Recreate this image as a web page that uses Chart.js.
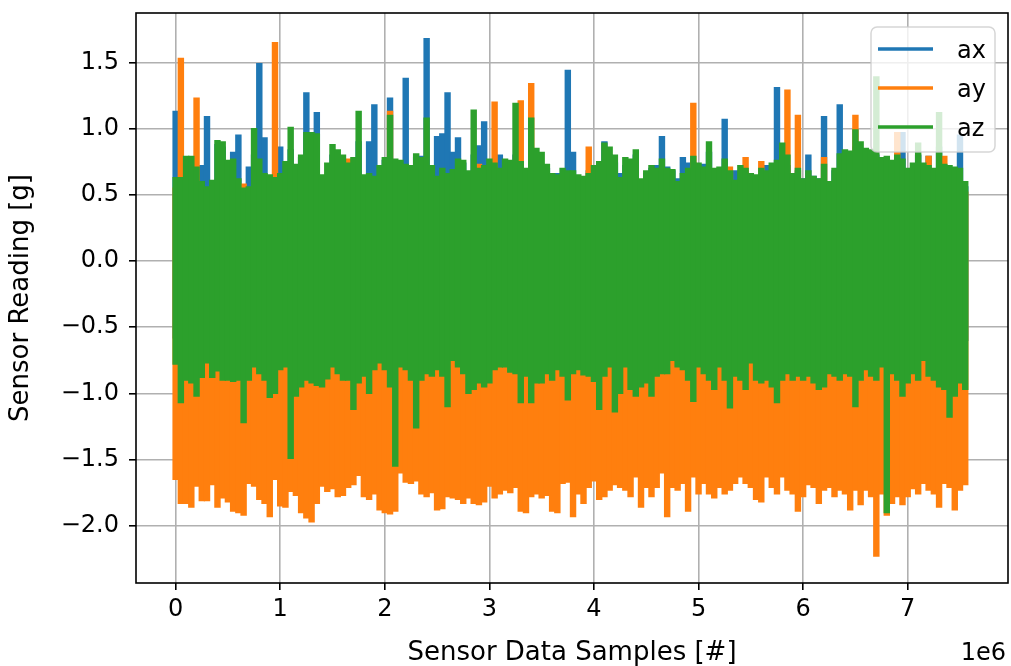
<!DOCTYPE html>
<html>
<head>
<meta charset="utf-8">
<script src="https://cdn.jsdelivr.net/npm/chart.js@4.4.0/dist/chart.umd.min.js"></script>
<style>
  html, body { margin: 0; padding: 0; background: #fff; }
  #chart { display: block; }
</style>
</head>
<body>
<canvas id="chart" width="1011" height="666"></canvas>
<script>
// Accelerometer log, reduced to min/max per block of 50k samples
const BLOCK = 50000;

const axHi = [
  1.13, 0.60, 0.70, 0.72, 0.68, 0.72, 1.09, 0.60, 0.88, 0.86, 0.70, 0.82, 0.95, 0.52, 0.71, 0.80, 1.49, 0.93, 0.62,
  0.60, 0.86, 0.70, 0.84, 0.66, 0.78, 1.27, 0.90, 1.12, 0.58, 0.62, 0.80, 0.78, 0.75, 0.68, 0.72, 0.90, 0.64, 0.90,
  1.18, 0.70, 0.76, 1.23, 0.70, 0.72, 1.38, 0.67, 0.78, 0.79, 1.68, 0.70, 0.94, 0.96, 1.27, 0.82, 0.93, 0.74, 0.66,
  0.80, 0.87, 1.05, 0.72, 0.68, 0.80, 0.72, 0.70, 0.80, 0.70, 0.68, 0.72, 0.80, 0.70, 0.70, 0.62, 0.66, 0.64, 1.44,
  0.82, 0.62, 0.62, 0.68, 0.70, 0.74, 0.90, 0.80, 0.74, 0.66, 0.72, 0.74, 0.80, 0.60, 0.66, 0.70, 0.72, 0.94, 0.71,
  0.68, 0.62, 0.78, 0.74, 0.74, 0.70, 0.73, 0.82, 0.66, 0.68, 1.07, 0.64, 0.68, 0.66, 0.68, 0.62, 0.60, 0.66, 0.72,
  0.70, 1.31, 0.80, 0.72, 0.64, 0.68, 0.62, 0.80, 0.64, 0.62, 1.09, 0.58, 0.68, 1.18, 0.80, 0.78, 0.86, 0.84, 0.80,
  0.78, 0.80, 0.74, 0.76, 0.72, 0.75, 0.97, 0.68, 0.70, 0.80, 0.72, 0.79, 0.66, 0.86, 0.70, 0.69, 0.68, 0.95, 0.56
];
const axLo = [
  -0.58, -0.62, -0.55, -0.60, -0.66, -0.52, -0.59, -0.63, -0.57, -0.61, -0.54, -0.65, -0.60, -0.56, -0.62, -0.58, -0.64, -0.53, -0.60,
  -0.57, -0.63, -0.59, -0.55, -0.61, -0.66, -0.58, -0.54, -0.62, -0.60, -0.57, -0.64, -0.59, -0.52, -0.61, -0.65, -0.58, -0.60, -0.56,
  -0.62, -0.59, -0.55, -0.63, -0.60, -0.57, -0.66, -0.58, -0.61, -0.54, -0.60, -0.63, -0.57, -0.59, -0.65, -0.56, -0.61, -0.58, -0.62,
  -0.60, -0.55, -0.63, -0.58, -0.61, -0.57, -0.64, -0.59, -0.56, -0.62, -0.60, -0.58, -0.65, -0.54, -0.61, -0.59, -0.63, -0.57, -0.60,
  -0.58, -0.62, -0.56, -0.60, -0.64, -0.59, -0.55, -0.61, -0.63, -0.57, -0.60, -0.66, -0.58, -0.62, -0.54, -0.60, -0.59, -0.63, -0.57,
  -0.61, -0.58, -0.64, -0.56, -0.60, -0.62, -0.59, -0.55, -0.63, -0.58, -0.61, -0.57, -0.65, -0.60, -0.56, -0.62, -0.59, -0.64, -0.58,
  -0.60, -0.57, -0.63, -0.59, -0.55, -0.62, -0.58, -0.64, -0.60, -0.56, -0.61, -0.59, -0.63, -0.57, -0.60, -0.65, -0.58, -0.62, -0.56,
  -0.59, -0.63, -0.57, -0.61, -0.58, -0.64, -0.60, -0.55, -0.62, -0.59, -0.57, -0.63, -0.60, -0.58, -0.65, -0.56, -0.61, -0.59, -0.60
];

const ayHi = [
  0.55, 1.53, 0.58, 0.52, 1.23, 0.50, 0.48, 0.54, 0.60, 0.57, 0.52, 0.49, 0.55, 0.58, 0.50, 0.56, 0.53, 0.51, 0.57,
  1.65, 0.55, 0.52, 0.60, 0.54, 0.57, 0.61, 0.58, 0.55, 0.52, 0.56, 0.59, 0.54, 0.57, 0.77, 0.55, 0.60, 0.53, 0.50,
  0.54, 0.58, 0.56, 1.13, 0.60, 0.55, 0.52, 0.57, 0.60, 0.56, 0.62, 0.55, 0.51, 0.54, 0.58, 0.56, 0.60, 0.53, 0.57,
  0.62, 0.73, 0.57, 0.55, 1.20, 0.58, 0.54, 0.60, 0.62, 1.21, 0.55, 1.34, 0.60, 0.57, 0.54, 0.56, 0.52, 0.58, 0.55,
  0.57, 0.53, 0.56, 0.86, 0.60, 0.58, 0.62, 0.55, 0.57, 0.52, 0.58, 0.56, 0.60, 0.54, 0.57, 0.55, 0.59, 0.56, 0.53,
  0.55, 0.52, 0.57, 0.60, 1.19, 0.56, 0.58, 0.61, 0.55, 0.59, 0.57, 0.71, 0.53, 0.58, 0.78, 0.56, 0.54, 0.75, 0.57,
  0.60, 0.56, 0.62, 1.29, 0.55, 1.10, 0.53, 0.57, 0.54, 0.52, 0.78, 0.50, 0.56, 0.60, 0.62, 0.58, 1.10, 0.61, 0.57,
  0.59, 0.62, 0.56, 0.58, 0.55, 0.97, 0.60, 0.57, 0.54, 0.61, 0.58, 0.79, 0.56, 0.60, 0.79, 0.57, 0.55, 0.58, 0.52
];
const ayLo = [
  -1.65, -1.83, -1.83, -1.86, -1.70, -1.81, -1.81, -1.69, -1.86, -1.79, -1.82, -1.89, -1.90, -1.92, -1.68, -1.70, -1.80, -1.83, -1.93,
  -1.65, -1.85, -1.86, -1.74, -1.77, -1.90, -1.94, -1.97, -1.83, -1.70, -1.74, -1.72, -1.78, -1.77, -1.71, -1.69, -1.62, -1.78, -1.80,
  -1.76, -1.88, -1.90, -1.91, -1.89, -1.60, -1.67, -1.68, -1.66, -1.76, -1.78, -1.75, -1.88, -1.87, -1.78, -1.79, -1.80, -1.83, -1.79,
  -1.83, -1.84, -1.82, -1.70, -1.79, -1.76, -1.73, -1.75, -1.71, -1.89, -1.90, -1.78, -1.76, -1.79, -1.77, -1.89, -1.90, -1.68, -1.67,
  -1.93, -1.76, -1.83, -1.71, -1.66, -1.80, -1.78, -1.73, -1.69, -1.71, -1.73, -1.78, -1.63, -1.86, -1.71, -1.78, -1.71, -1.60, -1.93,
  -1.71, -1.73, -1.68, -1.89, -1.63, -1.76, -1.68, -1.76, -1.79, -1.71, -1.76, -1.73, -1.68, -1.63, -1.68, -1.71, -1.80, -1.82, -1.63,
  -1.71, -1.76, -1.63, -1.73, -1.76, -1.89, -1.78, -1.69, -1.71, -1.83, -1.73, -1.71, -1.78, -1.73, -1.76, -1.88, -1.73, -1.84, -1.73,
  -1.78, -2.23, -1.76, -1.92, -1.83, -1.78, -1.84, -1.78, -1.72, -1.76, -1.68, -1.73, -1.76, -1.86, -1.68, -1.71, -1.88, -1.73, -1.69
];

const azHi = [
  0.63, 0.63, 0.79, 0.79, 0.71, 0.60, 0.56, 0.61, 0.91, 0.90, 0.76, 0.77, 0.62, 0.55, 0.56, 1.00, 0.77, 0.66, 0.65,
  0.63, 0.66, 0.75, 1.01, 0.73, 0.80, 0.97, 0.97, 0.96, 0.65, 0.74, 0.88, 0.84, 0.80, 0.74, 0.78, 1.13, 0.65, 0.66,
  0.64, 0.72, 0.78, 1.10, 0.77, 0.76, 0.73, 0.72, 0.81, 0.78, 1.08, 0.72, 0.64, 0.70, 0.66, 0.69, 0.77, 0.76, 0.68,
  1.14, 0.70, 0.72, 0.77, 0.74, 0.70, 0.77, 0.76, 1.19, 0.75, 0.70, 1.08, 0.85, 0.82, 0.73, 0.66, 0.65, 0.70, 0.68,
  0.68, 0.65, 0.64, 0.66, 0.72, 0.75, 0.89, 0.86, 0.80, 0.63, 0.78, 0.77, 0.84, 0.62, 0.68, 0.72, 0.70, 0.77, 0.70,
  0.69, 0.60, 0.66, 0.70, 0.79, 0.74, 0.71, 0.90, 0.70, 0.71, 0.77, 0.68, 0.61, 0.72, 0.70, 0.66, 0.65, 0.70, 0.68,
  0.74, 0.76, 0.89, 0.80, 0.66, 0.70, 0.62, 0.68, 0.64, 0.62, 0.73, 0.60, 0.70, 0.81, 0.84, 0.83, 0.99, 0.90, 0.85,
  0.84, 1.39, 0.78, 0.79, 0.76, 0.80, 0.77, 0.70, 0.74, 0.89, 0.74, 0.72, 0.70, 1.12, 0.73, 0.72, 0.71, 0.70, 0.60
];
const azLo = [
  -0.78, -1.07, -0.90, -0.92, -1.02, -0.88, -0.77, -0.88, -0.83, -0.90, -0.90, -0.91, -0.90, -1.22, -0.90, -0.80, -0.85, -0.90, -1.03,
  -1.00, -0.82, -0.80, -1.49, -1.02, -0.95, -0.90, -0.92, -0.94, -0.95, -0.89, -0.80, -0.85, -0.90, -0.90, -1.12, -0.92, -0.87, -1.00,
  -0.82, -0.77, -0.82, -0.95, -1.55, -0.80, -0.82, -0.90, -1.26, -0.90, -0.85, -0.87, -0.82, -0.87, -1.10, -0.75, -0.80, -0.85, -1.00,
  -0.97, -0.92, -0.95, -0.92, -0.82, -0.80, -0.80, -0.84, -0.85, -1.07, -0.87, -1.07, -0.92, -0.92, -0.85, -0.90, -0.82, -0.87, -1.05,
  -0.85, -0.82, -0.86, -0.87, -0.91, -1.12, -0.87, -0.80, -1.14, -1.00, -0.80, -0.97, -1.02, -0.95, -0.92, -1.02, -0.87, -0.85, -0.85,
  -0.75, -0.80, -0.82, -0.90, -1.06, -0.80, -0.85, -0.90, -0.97, -0.80, -0.90, -1.11, -0.87, -0.90, -0.97, -0.77, -0.90, -0.92, -0.90,
  -0.95, -1.07, -0.90, -0.85, -0.90, -0.87, -0.90, -0.87, -0.92, -0.97, -0.95, -0.85, -0.87, -0.90, -0.85, -0.87, -1.10, -0.90, -0.82,
  -0.87, -0.90, -0.80, -1.90, -0.85, -0.90, -1.02, -0.92, -0.85, -0.90, -0.75, -0.87, -0.90, -0.95, -0.97, -1.18, -1.02, -0.92, -0.97
];

const seriesNames = ['ax', 'ay', 'az'];
const seriesColors = ['#1f77b4', '#ff7f0e', '#2ca02c'];
const xTicks = [0, 1e6, 2e6, 3e6, 4e6, 5e6, 6e6, 7e6];
const yTicks = [-2.0, -1.5, -1.0, -0.5, 0.0, 0.5, 1.0, 1.5];

const FONT = 'DejaVu Sans';
const TICK_SIZE = 24;
const LABEL_SIZE = 26;

const blockX = azHi.map((_, i) => i * BLOCK);
function ranges(lo, hi) {
  return lo.map((v, i) => ({ x: blockX[i], y: [v, hi[i]] }));
}

function band(idx, lo, hi) {
  return {
    label: seriesNames[idx],
    data: ranges(lo, hi),
    backgroundColor: seriesColors[idx],
    borderWidth: 0,
    grouped: false,
    barPercentage: 1.0,
    categoryPercentage: 1.0,
    inflateAmount: 0.6,
    order: 3 - idx   // az drawn last, on top
  };
}

// black box round the plot area
const frame = {
  id: 'frame',
  afterDatasetsDraw(chart) {
    const { ctx, chartArea: a } = chart;
    ctx.save();
    ctx.strokeStyle = '#000';
    ctx.lineWidth = 1.6;
    ctx.strokeRect(a.left, a.top, a.right - a.left, a.bottom - a.top);
    ctx.restore();
  }
};

// legend in the upper right corner, drawn over the data
const cornerLegend = {
  id: 'cornerLegend',
  afterDraw(chart) {
    const { ctx, chartArea: a } = chart;
    const w = 124, h = 125, r = 6;
    const x = a.right - 13 - w, y = a.top + 14;
    ctx.save();
    ctx.beginPath();
    ctx.moveTo(x + r, y);
    ctx.arcTo(x + w, y, x + w, y + h, r);
    ctx.arcTo(x + w, y + h, x, y + h, r);
    ctx.arcTo(x, y + h, x, y, r);
    ctx.arcTo(x, y, x + w, y, r);
    ctx.closePath();
    ctx.fillStyle = 'rgba(255,255,255,0.8)';
    ctx.fill();
    ctx.strokeStyle = 'rgba(204,204,204,0.8)';
    ctx.lineWidth = 1.5;
    ctx.stroke();

    ctx.font = TICK_SIZE + 'px "' + FONT + '"';
    ctx.textAlign = 'left';
    ctx.textBaseline = 'alphabetic';
    seriesNames.forEach((name, i) => {
      const rowY = y + 22 + i * 39;
      ctx.strokeStyle = seriesColors[i];
      ctx.lineWidth = 3.5;
      ctx.beginPath();
      ctx.moveTo(x + 7, rowY);
      ctx.lineTo(x + 62, rowY);
      ctx.stroke();
      ctx.fillStyle = '#000';
      ctx.fillText(name, x + 86, rowY + 8.5);
    });
    ctx.restore();
  }
};

// scale factor shown under the right end of the x axis
const offsetLabel = {
  id: 'offsetLabel',
  afterDraw(chart) {
    const { ctx, chartArea: a } = chart;
    ctx.save();
    ctx.font = TICK_SIZE + 'px "' + FONT + '"';
    ctx.fillStyle = '#000';
    ctx.textAlign = 'right';
    ctx.textBaseline = 'alphabetic';
    ctx.fillText('1e6', a.right - 2, 660);
    ctx.restore();
  }
};

const gridStyle = {
  color: '#b0b0b0',
  lineWidth: 1.6,
  drawTicks: true,
  tickLength: 7,
  tickColor: '#000',
  tickWidth: 1.6,
  offset: false
};

new Chart(document.getElementById('chart'), {
  type: 'bar',
  data: {
    datasets: [
      band(0, axLo, axHi),
      band(1, ayLo, ayHi),
      band(2, azLo, azHi)
    ]
  },
  options: {
    responsive: false,
    animation: false,
    devicePixelRatio: 1,
    layout: { padding: { top: 13, right: 3, left: 0, bottom: 0 } },
    font: { family: FONT, size: TICK_SIZE },
    plugins: {
      legend: { display: false },
      tooltip: { enabled: false }
    },
    scales: {
      x: {
        type: 'linear',
        offset: false,
        min: -379000,
        max: 7959000,
        grid: gridStyle,
        border: { display: false },
        afterBuildTicks(axis) { axis.ticks = xTicks.map(v => ({ value: v })); },
        afterFit(axis) {
          axis.height = 83;
          axis.paddingLeft = 0;
          axis.paddingRight = 0;
        },
        ticks: {
          color: '#000',
          font: { family: FONT, size: TICK_SIZE },
          padding: 5,
          maxRotation: 0,
          autoSkip: false,
          callback: v => String(v / 1e6)
        },
        title: {
          display: true,
          text: 'Sensor Data Samples [#]',
          color: '#000',
          font: { family: FONT, size: LABEL_SIZE },
          padding: { top: 0, bottom: -3 }
        }
      },
      y: {
        type: 'linear',
        min: -2.432,
        max: 1.873,
        grid: gridStyle,
        border: { display: false },
        afterBuildTicks(axis) { axis.ticks = yTicks.map(v => ({ value: v })); },
        afterFit(axis) {
          axis.width = 136;
          axis.paddingTop = 0;
          axis.paddingBottom = 0;
        },
        ticks: {
          color: '#000',
          font: { family: FONT, size: TICK_SIZE },
          padding: 10,
          autoSkip: false,
          callback: v => (v < 0 ? '\u2212' : '') + Math.abs(v).toFixed(1)
        },
        title: {
          display: true,
          text: 'Sensor Reading [g]',
          color: '#000',
          font: { family: FONT, size: LABEL_SIZE },
          padding: { top: 6, bottom: 0 }
        }
      }
    }
  },
  plugins: [frame, cornerLegend, offsetLabel]
});
</script>
</body>
</html>
